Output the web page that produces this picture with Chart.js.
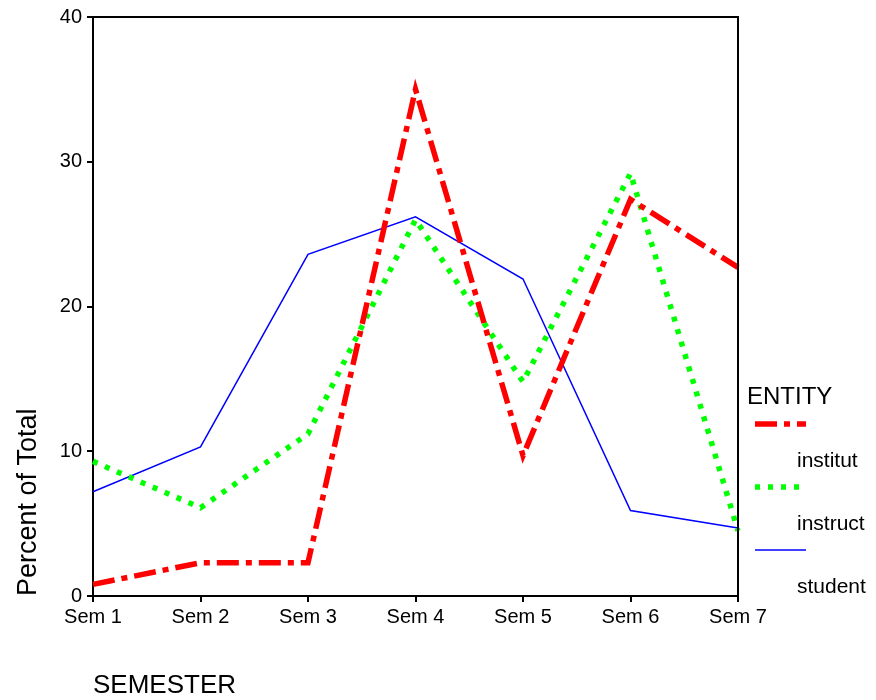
<!DOCTYPE html>
<html>
<head>
<meta charset="utf-8">
<script src="https://cdn.jsdelivr.net/npm/chart.js@4"></script>
<style>
  html, body { margin: 0; padding: 0; background: #fff; }
  #wrap { width: 876px; height: 700px; }
</style>
</head>
<body>
<div id="wrap"><canvas id="semester-chart" width="876" height="700"></canvas></div>
<script>
const semesters = ['Sem 1', 'Sem 2', 'Sem 3', 'Sem 4', 'Sem 5', 'Sem 6', 'Sem 7'];
const institut = [0.8, 2.3, 2.3, 35.0, 9.7, 27.4, 22.7];
const instruct = [9.3, 6.1, 11.2, 26.0, 14.8, 29.2, 4.5];
const student = [7.2, 10.3, 23.6, 26.2, 21.9, 5.9, 4.7];
const yTicks = [0, 10, 20, 30, 40];

const font = 'Liberation Sans, Arial, sans-serif';

// box around the plot + SPSS style legend on the right
const framePlugin = {
    id: 'frame',
    afterDraw(chart) {
        const ctx = chart.ctx;
        const a = chart.chartArea;
        ctx.save();
        ctx.strokeStyle = '#000';
        ctx.lineWidth = 2;
        ctx.beginPath();
        ctx.moveTo(a.left, a.top);
        ctx.lineTo(a.right, a.top);
        ctx.lineTo(a.right, a.bottom);
        ctx.stroke();

        ctx.fillStyle = '#000';
        ctx.textBaseline = 'middle';
        ctx.textAlign = 'left';
        ctx.font = '24px ' + font;
        ctx.fillText('ENTITY', 747, 397);

        let y = 424;
        chart.data.datasets.forEach(ds => {
            ctx.strokeStyle = ds.borderColor;
            ctx.lineWidth = ds.borderWidth;
            ctx.setLineDash(ds.borderDash || []);
            ctx.beginPath();
            ctx.moveTo(755, y);
            ctx.lineTo(806, y);
            ctx.stroke();
            ctx.setLineDash([]);
            ctx.font = '21px ' + font;
            ctx.fillText(ds.label, 797, y + 37);
            y += 63;
        });
        ctx.restore();
    }
};

new Chart(document.getElementById('semester-chart'), {
    type: 'line',
    data: {
        labels: semesters,
        datasets: [
            { label: 'institut', data: institut, borderColor: '#ff0000', borderWidth: 5.5,
              borderDash: [22, 7, 6, 7], pointRadius: 0, tension: 0 },
            { label: 'instruct', data: instruct, borderColor: '#00ff00', borderWidth: 5.5,
              borderDash: [5, 8], pointRadius: 0, tension: 0 },
            { label: 'student', data: student, borderColor: '#0000ff', borderWidth: 1.5,
              pointRadius: 0, tension: 0 }
        ]
    },
    options: {
        responsive: false,
        animation: false,
        layout: { padding: { top: 17, right: 138, left: 8, bottom: 1 } },
        plugins: { legend: { display: false }, tooltip: { enabled: false } },
        scales: {
            x: {
                offset: false,
                border: { display: true, color: '#000', width: 2 },
                grid: { drawOnChartArea: false, drawTicks: true, tickLength: 6, color: '#000', lineWidth: 2 },
                ticks: { color: '#000', font: { family: font, size: 20 }, padding: 3, maxRotation: 0 },
                title: { display: true, text: 'SEMESTER', align: 'start', color: '#000',
                         font: { family: font, size: 26 }, padding: { top: 30, bottom: -2 } },
                afterFit(scale) { scale.height = 103; }
            },
            y: {
                min: 0, max: 40,
                afterBuildTicks(scale) { scale.ticks = yTicks.map(v => ({ value: v })); },
                border: { display: true, color: '#000', width: 2 },
                grid: { drawOnChartArea: false, drawTicks: true, tickLength: 6, color: '#000', lineWidth: 2 },
                ticks: { color: '#000', font: { family: font, size: 20 }, padding: 5 },
                title: { display: true, text: 'Percent of Total', align: 'start', color: '#000',
                         font: { family: font, size: 27 }, padding: { bottom: 10 } },
                afterFit(scale) { scale.width = 85; }
            }
        }
    },
    plugins: [framePlugin]
});
</script>
</body>
</html>
